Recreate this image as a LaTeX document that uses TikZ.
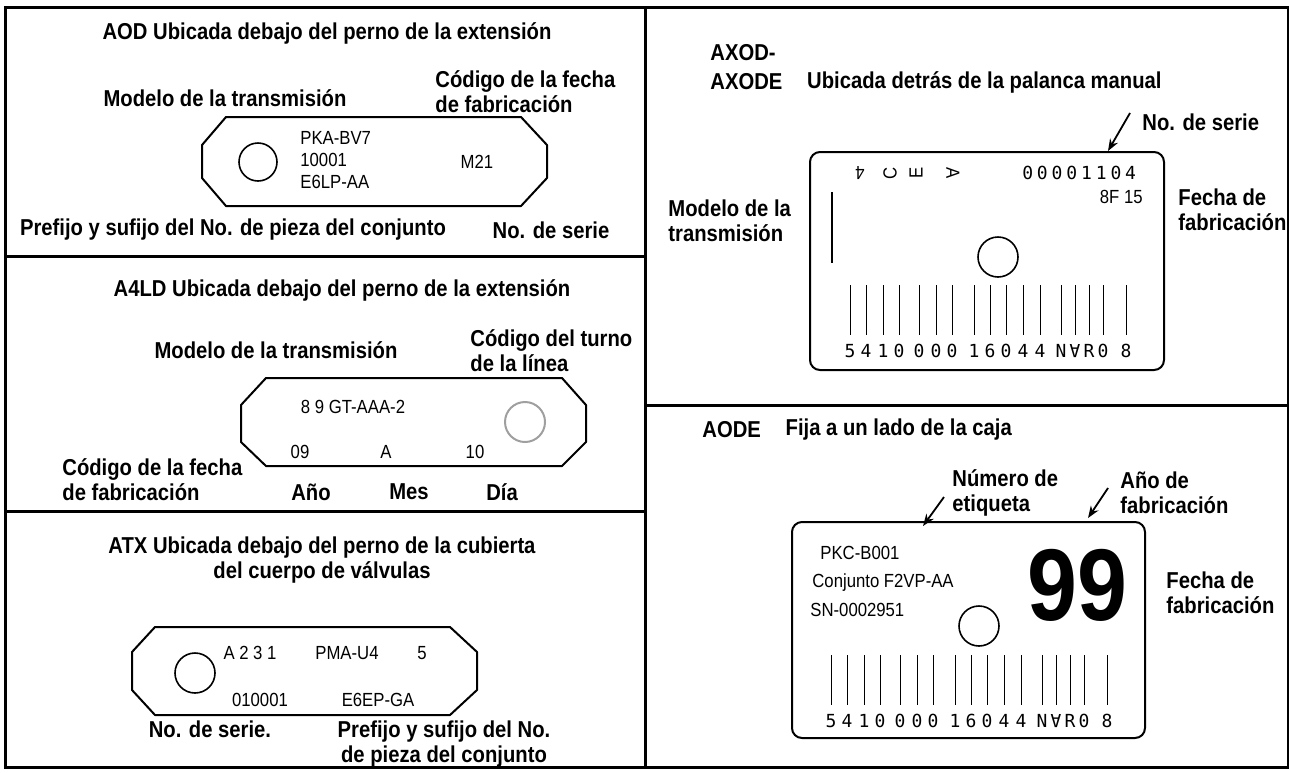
\documentclass[tikz,border=0pt]{standalone}
\usepackage{fontspec}
\usepackage{graphicx}
\setmainfont{Liberation Sans}
\newfontfamily\lblfamily{Liberation Sans}[FakeStretch=0.88]
\newfontfamily\cardfamily{Liberation Sans}[FakeStretch=0.88]
\newfontfamily\barfamily{DejaVu Sans Mono}
\usetikzlibrary{arrows.meta,positioning}
\newcommand{\lblfont}{\lblfamily\bfseries\fontsize{11.5}{12.5}\selectfont}
\newcommand{\cardfont}{\cardfamily\fontsize{9.5}{11}\selectfont}
\newcommand{\barfont}{\barfamily\fontsize{9}{11}\selectfont}
\newcommand{\flipA}{\rotatebox[origin=c]{180}{A}}

\begin{document}
\begin{tikzpicture}[
    x=0.5pt,y=-0.5pt,
    lbl/.style={font=\lblfont,inner sep=0,align=left},
    ttl/.style={font=\lblfont,inner sep=0,align=center},
    txt/.style={font=\cardfont,inner sep=0,align=left},
    bar/.style={font=\barfont,inner sep=0},
    hole/.style={circle,draw,line width=0.8pt,minimum size=20pt,inner sep=0},
    plate/.style={draw,line width=1pt,line join=round},
    card/.style={draw,line width=1pt,rounded corners=5pt,inner sep=0},
    frame/.style={line width=1.5pt},
    tick/.style={line width=0.5pt},
    pointer/.style={-{Stealth[length=6pt,width=4.5pt]},line width=0.9pt},
  ]
    \useasboundingbox (0,0) rectangle (1289,772);
    \draw[frame] (5,7) rectangle (1288,767);
    \draw[frame] (645,7) -- (645,767);
    \draw[frame] (5,256) -- (645,256);
    \draw[frame] (5,511) -- (645,511);
    \draw[frame] (645,405) -- (1288,405);

    \node[ttl] (aod) at (327,33) {AOD Ubicada debajo del perno de la extensión};
    \node[lbl] (aodmod) at (225,98) {Modelo de la transmisión};
    \node[lbl,anchor=west] (aodfec) at (435,92) {Código de la fecha\\de fabricación};
    \draw[plate] (226,117) -- (521,117) -- (547,145) -- (547,178) -- (521,206) -- (226,206) -- (202,178) -- (202,145) -- cycle;
    \node[hole,minimum size=19pt] (aodh) at (258,162) {};
    \node[txt,anchor=west] (aodtxt) at (300,160) {PKA-BV7\\10001\\E6LP-AA};
    \node[txt] (aodm) at (477,162) {M21};
    \node[lbl] (aodpre) at (233,230) {Prefijo y sufijo del No. de pieza del conjunto};
    \node[lbl] (aodser) at (551,230) {No. de serie};

    \node[ttl] (a4ld) at (342,290) {A4LD Ubicada debajo del perno de la extensión};
    \node[lbl] (a4mod) at (276,350) {Modelo de la transmisión};
    \node[lbl,anchor=west] (a4tur) at (470,351) {Código del turno\\de la línea};
    \draw[plate] (266,378) -- (562,378) -- (586,405) -- (586,442) -- (562,466) -- (266,466) -- (241,442) -- (241,405) -- cycle;
    \node[txt] (a4txt) at (353,407) {8 9 GT-AAA-2};
    \node[hole,draw=gray!75,line width=1pt] (a4h) at (525,422) {};
    \node[txt] (a4y) at (300,452) {09};
    \node[txt] (a4m) at (386,452) {A};
    \node[txt] (a4d) at (475,452) {10};
    \node[lbl,anchor=west] (a4fec) at (62,480) {Código de la fecha\\de fabricación};
    \node[lbl] (a4ano) at (311,492) {Año};
    \node[lbl] (a4mes) at (409,492) {Mes};
    \node[lbl] (a4dia) at (502,492) {Día};

    \node[ttl] (atx) at (322,560) {ATX Ubicada debajo del perno de la cubierta\\del cuerpo de válvulas};
    \draw[plate] (155,627) -- (450,627) -- (477,652) -- (477,690) -- (450,715) -- (155,715) -- (132,690) -- (132,652) -- cycle;
    \node[hole] (atxh) at (195,673) {};
    \node[txt] (atxa) at (250,653) {A 2 3 1};
    \node[txt] (atxp) at (347,653) {PMA-U4};
    \node[txt] (atx5) at (422,653) {5};
    \node[txt] (atxs) at (260,700) {010001};
    \node[txt] (atxe) at (378,700) {E6EP-GA};
    \node[lbl] (atxser) at (210,729) {No. de serie.};
    \node[ttl] (atxpre) at (444,744) {Prefijo y sufijo del No.\\de pieza del conjunto};

    \node[lbl,anchor=west] (axa) at (710,53) {AXOD-};
    \node[lbl,anchor=west] (axb) at (710,82) {AXODE};
    \node[lbl,right=12pt of axb] (axub) {Ubicada detrás de la palanca manual};
    \node[lbl,anchor=west] (axser) at (1142,122) {No. de serie};
    \node[card,minimum width=177pt,minimum height=109pt] (axcard) at (987,261) {};
    \coordinate (axtail) at (1130,113);
    \coordinate (axtip) at (1108,151);
    \draw[pointer] (axtail) -- (axtip);
    \node[txt,rotate=180] (axg1) at (860,173) {4};
    \node[txt,rotate=90] (axg2) at (890,173) {C};
    \node[txt,rotate=90] (axg3) at (916,173) {E};
    \node[txt,rotate=-90] (axg4) at (953,173) {A};
    \foreach \c [count=\k] in {0,0,0,0,1,1,0,4}
      \node[bar] (axn\k) at (1013+14.7*\k,173) {\c};
    \node[txt,anchor=east] (axf) at (1143,197) {8F 15};
    \draw[line width=0.6pt] (832,192) -- (832,263);
    \node[lbl,anchor=west] (axmod) at (668,221) {Modelo de la\\transmisión};
    \node[lbl,anchor=west] (axfec) at (1178,210) {Fecha de\\fabricación};
    \node[hole] (axh) at (998,257) {};

    \node[lbl,anchor=west] (aode) at (702,430) {AODE};
    \node[lbl,right=12pt of aode] (aodefija) {Fija a un lado de la caja};
    \node[lbl,anchor=west] (aodenum) at (952,493) {Número de\\etiqueta};
    \node[lbl,anchor=west] (aodeano) at (1120,493) {Año de\\fabricación};
    \node[card,minimum width=176.5pt,minimum height=108pt] (aodecard) at (968.5,630) {};
    \coordinate (numtail) at (944,497);
    \coordinate (numtip) at (923,526);
    \coordinate (anotail) at (1108,488);
    \coordinate (anotip) at (1088,518);
    \draw[pointer] (numtail) -- (numtip);
    \draw[pointer] (anotail) -- (anotip);
    \node[txt,anchor=west] (aodet1) at (820,553) {PKC-B001};
    \node[txt,anchor=west] (aodet2) at (812,583) {Conjunto F2VP-AA};
    \node[txt,anchor=west] (aodet3) at (810,610) {SN-0002951};
    \node[inner sep=0,font=\cardfamily\bfseries\fontsize{51}{51}\selectfont] (aode99) at (1077,585) {99};
    \node[lbl,anchor=west] (aodefec) at (1166,593) {Fecha de\\fabricación};
    \node[hole] (aodeh) at (979,626) {};

    \foreach \x/\yb/\n in {850/285/a,831/655/b}
      \foreach \dx/\c [count=\k] in {0/5,16/4,33/1,49/0,69/0,86/0,102/0,124/1,140/6,156/0,173/4,190/4,211/N,225/\flipA,239/R,253/0,276/8} {
        \draw[tick] (\x+\dx,\yb) -- (\x+\dx,\yb+50);
        \node[bar] (bar\n\k) at (\x+\dx,\yb+66) {\c};
      }
  \end{tikzpicture}
\end{document}
